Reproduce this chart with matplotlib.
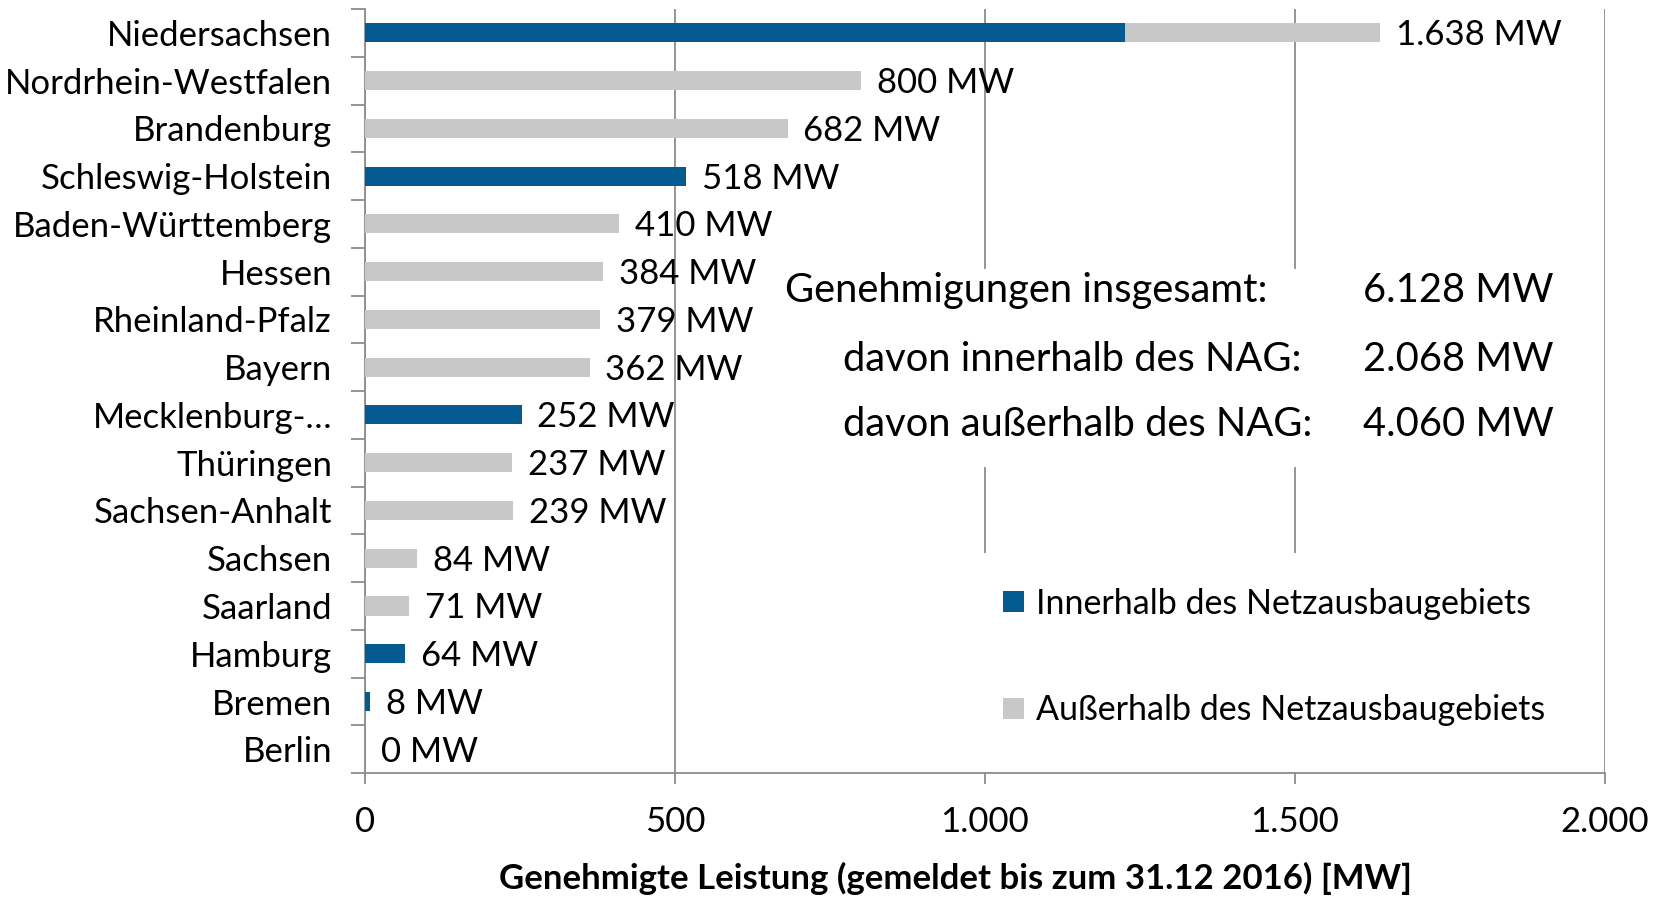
import matplotlib
matplotlib.use('Agg')
import matplotlib.pyplot as plt
import numpy as np
from matplotlib.patches import Rectangle

plt.rcParams['font.family'] = ['Lato', 'DejaVu Sans']

states = ['Niedersachsen', 'Nordrhein-Westfalen', 'Brandenburg', 'Schleswig-Holstein',
          'Baden-Württemberg', 'Hessen', 'Rheinland-Pfalz', 'Bayern', 'Mecklenburg-…',
          'Thüringen', 'Sachsen-Anhalt', 'Sachsen', 'Saarland', 'Hamburg', 'Bremen', 'Berlin']
inner = [1226, 0, 0, 518, 0, 0, 0, 0, 252, 0, 0, 0, 0, 64, 8, 0]
outer = [412, 800, 682, 0, 410, 384, 379, 362, 0, 237, 239, 84, 71, 0, 0, 0]
totals = [1638, 800, 682, 518, 410, 384, 379, 362, 252, 237, 239, 84, 71, 64, 8, 0]
xticks = [0, 500, 1000, 1500, 2000]
xticklabels = ['0', '500', '1.000', '1.500', '2.000']
summary_labels = ['Genehmigungen insgesamt:', 'davon innerhalb des NAG:', 'davon außerhalb des NAG:']
summary_values = ['6.128 MW', '2.068 MW', '4.060 MW']

blue = '#035b91'
gray = '#c8c8c8'
axcol = '#8c8c8c'
fs = 25

fig = plt.figure(figsize=(16.61, 8.99), dpi=100)
ax = fig.add_axes([0.22, 0.14, 0.746, 0.85])

y = np.arange(len(states))
ax.barh(y, inner, height=0.4, color=blue, label='Innerhalb des Netzausbaugebiets', zorder=3)
ax.barh(y, outer, left=inner, height=0.4, color=gray, label='Außerhalb des Netzausbaugebiets', zorder=3)

for i, t in enumerate(totals):
    ax.text(t + 25, i + 0.05, f'{t:,}'.replace(',', '.') + ' MW', va='center', ha='left',
            fontsize=fs, zorder=5)

ax.set_xlim(0, 2000)
ax.set_ylim(len(states) - 0.5, -0.5)
ax.set_xticks(xticks)
ax.set_xticklabels(xticklabels, fontsize=fs)
ax.set_yticks(y)
ax.set_yticklabels(states, fontsize=fs)
ax.set_yticks(np.arange(-0.5, len(states)), minor=True)
ax.tick_params(axis='y', which='major', length=0, pad=24)
ax.tick_params(axis='y', which='minor', length=10, color=axcol, width=1.3)
ax.tick_params(axis='x', length=8, color=axcol, width=1.3, pad=16)

ax.grid(axis='x', color=axcol, linewidth=1.3, zorder=1)
ax.set_axisbelow(True)
for s in ['top', 'right']:
    ax.spines[s].set_visible(False)
for s in ['left', 'bottom']:
    ax.spines[s].set_color(axcol)
    ax.spines[s].set_linewidth(1.3)

# white boxes hiding gridlines behind the annotations
ax.add_patch(Rectangle((700, 4.95), 1250, 4.15, facecolor='white', edgecolor='none', zorder=2))
ax.add_patch(Rectangle((950, 10.9), 1000, 4.6, facecolor='white', edgecolor='none', zorder=2))

sy = [5.4, 6.84, 8.2]
sx = [678, 771, 771]
for lab, val, yy, xx in zip(summary_labels, summary_values, sy, sx):
    ax.text(xx, yy, lab, fontsize=fs * 1.15, va='center', ha='left', zorder=5)
    ax.text(1610, yy, val, fontsize=fs * 1.15, va='center', ha='left', zorder=5)

leg = ax.legend(loc='upper left', bbox_to_anchor=(0.49, 0.283), frameon=False, fontsize=fs - 0.5,
                handlelength=0.6, handleheight=0.6, handletextpad=0.35, labelspacing=2.2)

fig.text(0.575, 0.005, 'Genehmigte Leistung (gemeldet bis zum 31.12 2016) [MW]', ha='center',
         va='bottom', fontsize=fs, fontweight='bold')

fig.savefig('out.png', dpi=100)
